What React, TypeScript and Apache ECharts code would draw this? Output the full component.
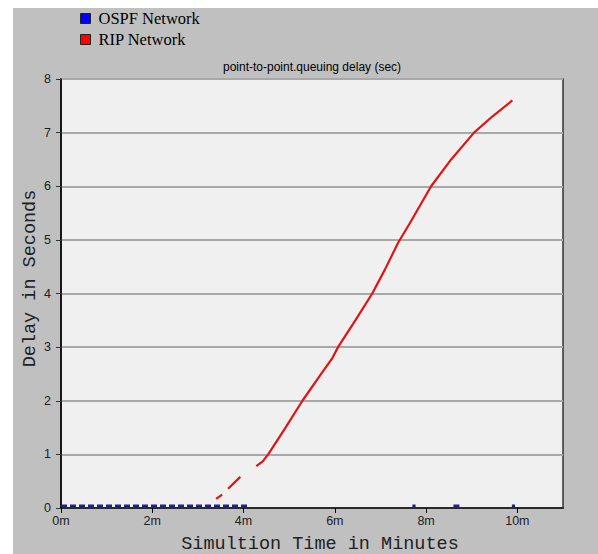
import React, { useEffect, useRef } from "react";
import * as echarts from "echarts";

const seriesNames = ["OSPF Network", "RIP Network"];
const xTickValues = [0, 2, 4, 6, 8, 10];
const yTickValues = [0, 1, 2, 3, 4, 5, 6, 7, 8];

// OSPF Network: queuing delay (minutes, seconds)
const ospfData: (number[] | null)[] = [
  [0, 0.04], [4.08, 0.04], null,
  [7.7, 0.04], [7.77, 0.04], null,
  [8.6, 0.04], [8.73, 0.04], null,
  [9.88, 0.04], [9.95, 0.04],
];

// RIP Network: queuing delay (minutes, seconds)
const ripData: (number[] | null)[] = [
  [3.4, 0.17], [3.53, 0.25], null,
  [3.66, 0.36], [3.93, 0.58], null,
  [4.28, 0.78], [4.42, 0.87], [4.54, 1.0], [4.92, 1.5], [5.29, 2.0],
  [5.7, 2.5], [5.95, 2.8], [6.07, 3.0], [6.45, 3.5], [6.82, 4.0],
  [7.1, 4.45], [7.39, 4.95], [7.65, 5.32], [8.11, 6.0], [8.55, 6.5],
  [9.05, 7.0], [9.45, 7.3], [9.89, 7.6],
];

export default function App() {
  const ref = useRef<HTMLDivElement>(null);
  useEffect(() => {
    if (!ref.current) return;
    const chart = echarts.init(ref.current, null, { renderer: "svg" });
    chart.setOption({
      animation: false,
      backgroundColor: "transparent",
      title: {
        text: "point-to-point.queuing delay (sec)",
        left: 312,
        top: 61,
        textAlign: "center",
        padding: 0,
        textStyle: { fontFamily: "Liberation Sans, Arial, sans-serif", fontSize: 12, fontWeight: "normal", color: "#000" },
      },
      legend: {
        orient: "vertical",
        left: 80,
        top: 10,
        padding: 0,
        itemGap: 4,
        itemWidth: 10,
        itemHeight: 10,
        icon: "rect",
        itemStyle: { borderColor: "#222", borderWidth: 1 },
        textStyle: {
          fontFamily: "Liberation Serif, Times New Roman, serif",
          fontSize: 16.5,
          lineHeight: 17,
          color: "#000",
          padding: [0, 0, 0, 3],
        },
        data: seriesNames,
      },
      grid: {
        left: 61,
        top: 79,
        right: 35,
        bottom: 46,
        outerBoundsMode: "none",
        containLabel: false,
        show: true,
        backgroundColor: "#f0f0f0",
        borderColor: "#333",
        borderWidth: 1.5,
      },
      xAxis: {
        type: "value",
        min: 0,
        max: 11,
        name: "Simultion Time in Minutes",
        nameLocation: "middle",
        nameGap: 27,
        nameMoveOverlap: false,
        nameTextStyle: { fontFamily: "Liberation Mono, Courier New, monospace", fontSize: 18.5, color: "#222", padding: [0, 0, 0, 16] },
        axisLine: { show: true, lineStyle: { color: "#000", width: 1.5 } },
        axisTick: { show: true, length: 5, customValues: xTickValues, lineStyle: { color: "#000" } },
        axisLabel: {
          customValues: xTickValues,
          margin: 6,
          formatter: (v: number) => v + "m",
          fontFamily: "Liberation Sans, Arial, sans-serif",
          fontSize: 12.5,
          color: "#222",
        },
        splitLine: { show: false },
      },
      yAxis: {
        type: "value",
        min: 0,
        max: 8,
        interval: 1,
        name: "Delay in Seconds",
        nameLocation: "middle",
        nameGap: 21,
        nameMoveOverlap: false,
        nameTextStyle: { fontFamily: "Liberation Mono, Courier New, monospace", fontSize: 18.5, color: "#222", padding: [0, 0, 0, 30] },
        axisLine: { show: true, lineStyle: { color: "#000", width: 1.5 } },
        axisTick: { show: true, length: 5, lineStyle: { color: "#333" } },
        axisLabel: {
          margin: 10,
          fontFamily: "Liberation Sans, Arial, sans-serif",
          fontSize: 12.5,
          color: "#222",
          formatter: (v: number) => (yTickValues.includes(v) ? String(v) : ""),
        },
        splitLine: { show: true, lineStyle: { color: "#a8a8a8", width: 2 } },
      },
      series: [
        {
          name: seriesNames[0],
          type: "line",
          data: ospfData,
          showSymbol: false,
          connectNulls: false,
          itemStyle: { color: "#0000ff" },
          lineStyle: { color: "#202088", width: 2.5, type: [6, 3] },
          z: 3,
        },
        {
          name: seriesNames[1],
          type: "line",
          data: ripData,
          showSymbol: false,
          connectNulls: false,
          itemStyle: { color: "#ff0000" },
          lineStyle: { color: "#e01414", width: 2.2 },
          z: 4,
        },
      ],
    });
    return () => chart.dispose();
  }, []);
  return (
    <div style={{ position: "absolute", left: 0, top: 0, width: 598, height: 554, background: "#fff" }}>
      <div style={{ position: "absolute", left: 13, top: 8, width: 585, height: 546, background: "#c0c0c0" }} />
      <div ref={ref} style={{ position: "absolute", left: 0, top: 0, width: 598, height: 554 }} />
    </div>
  );
}
